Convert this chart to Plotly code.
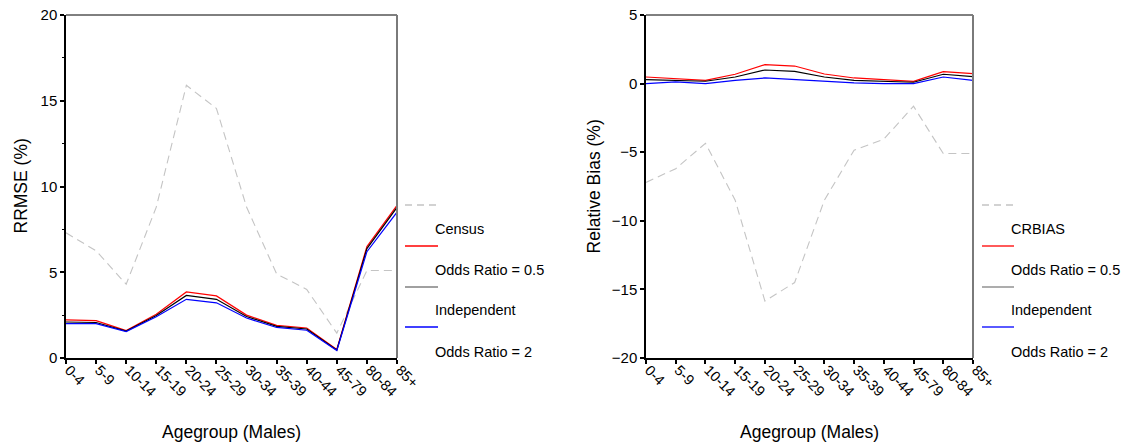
import plotly.graph_objects as go

W, H = 1123, 444

categories = ["0-4", "5-9", "10-14", "15-19", "20-24", "25-29", "30-34",
              "35-39", "40-44", "45-79", "80-84", "85+"]

# RRMSE (%)
rrmse_census = [7.3, 6.25, 4.3, 8.8, 15.9, 14.55, 8.8, 4.9, 4.0, 1.45, 5.1, 5.1]
rrmse_or05 = [2.22, 2.18, 1.6, 2.55, 3.85, 3.62, 2.5, 1.9, 1.75, 0.5, 6.5, 8.9]
rrmse_indep = [2.1, 2.07, 1.57, 2.48, 3.65, 3.42, 2.42, 1.84, 1.69, 0.47, 6.38, 8.78]
rrmse_or2 = [2.0, 2.0, 1.54, 2.4, 3.42, 3.22, 2.33, 1.78, 1.62, 0.44, 6.2, 8.5]

# Relative Bias (%)
bias_census = [-7.2, -6.2, -4.35, -8.5, -15.85, -14.5, -8.5, -4.85, -4.05, -1.65, -5.1, -5.1]
bias_or05 = [0.48, 0.38, 0.24, 0.68, 1.38, 1.28, 0.7, 0.41, 0.29, 0.17, 0.87, 0.73]
bias_indep = [0.29, 0.22, 0.17, 0.48, 0.99, 0.89, 0.48, 0.24, 0.17, 0.1, 0.68, 0.51]
bias_or2 = [0.0, 0.12, 0.0, 0.24, 0.41, 0.29, 0.19, 0.05, 0.0, 0.0, 0.48, 0.24]

left_legend = ["Census", "Odds Ratio = 0.5", "Independent", "Odds Ratio = 2"]
right_legend = ["CRBIAS", "Odds Ratio = 0.5", "Independent", "Odds Ratio = 2"]

FONT = "Liberation Sans, Arial, sans-serif"
DASH_COL = "#c4c4c4"
series_styles = [
    dict(color=DASH_COL, width=1.1, dash="8px,5px"),
    dict(color="#ff0000", width=1.2),
    dict(color="#000000", width=1.2),
    dict(color="#0000ff", width=1.2),
]
legend_line_cols = [DASH_COL, "#ff0000", "#808080", "#0000ff"]


def px(x):
    return x / W


def py(y):
    return 1 - y / H


fig = go.Figure()

for vals, st in zip([rrmse_census, rrmse_or05, rrmse_indep, rrmse_or2], series_styles):
    fig.add_trace(go.Scatter(x=categories, y=vals, mode="lines", line=st,
                             xaxis="x", yaxis="y", showlegend=False, hoverinfo="skip"))
for vals, st in zip([bias_census, bias_or05, bias_indep, bias_or2], series_styles):
    fig.add_trace(go.Scatter(x=categories, y=vals, mode="lines", line=st,
                             xaxis="x2", yaxis="y2", showlegend=False, hoverinfo="skip"))

L_X0, L_X1 = 66, 397
R_X0, R_X1 = 646, 973
Y_TOP, Y_BOT = 15, 358

xaxis_common = dict(
    type="category", range=[0, len(categories) - 1], showgrid=False, zeroline=False,
    showline=True, linecolor="black", linewidth=2, ticks="outside", ticklen=4,
    tickcolor="black", tickwidth=1.5, tickangle=45, automargin=False,
    ticklabelshift=3, ticklabelstandoff=-8,
    tickfont=dict(family=FONT, size=14.5, color="black"),
)
yaxis_common = dict(
    showgrid=False, zeroline=False, showline=True, linecolor="black", linewidth=1.5,
    ticks="outside", ticklen=4, tickcolor="black", tickwidth=1.5, automargin=False,
    tickfont=dict(family=FONT, size=15, color="black"),
)

fig.update_layout(
    width=W, height=H, margin=dict(l=0, r=0, t=0, b=0, autoexpand=False),
    paper_bgcolor="white", plot_bgcolor="white",
    xaxis=dict(domain=[px(L_X0), px(L_X1)], anchor="y", **xaxis_common),
    yaxis=dict(domain=[py(Y_BOT), py(Y_TOP)], anchor="x", range=[0, 20],
               tickvals=[0, 5, 10, 15, 20],
               minor=dict(tickvals=[2.5, 7.5, 12.5, 17.5], ticks="outside", ticklen=2,
                          tickcolor="black", tickwidth=1),
               **yaxis_common),
    xaxis2=dict(domain=[px(R_X0), px(R_X1)], anchor="y2", **xaxis_common),
    yaxis2=dict(domain=[py(Y_BOT), py(Y_TOP)], anchor="x2", range=[-20, 5],
                tickvals=[-20, -15, -10, -5, 0, 5], **yaxis_common),
    showlegend=False,
)

shapes = []
annotations = []
# frame: top and right borders
for x0, x1 in [(L_X0, L_X1), (R_X0, R_X1)]:
    shapes.append(dict(type="line", xref="paper", yref="paper",
                       x0=px(x0), x1=px(x1), y0=py(Y_TOP), y1=py(Y_TOP),
                       line=dict(color="black", width=1)))
    shapes.append(dict(type="line", xref="paper", yref="paper",
                       x0=px(x1), x1=px(x1), y0=py(Y_TOP), y1=py(Y_BOT),
                       line=dict(color="#7a7a7a", width=2)))

# legends (SPSS style: line sample above each label)
line_ys = [205, 246, 287, 327]
text_ys = [229, 270, 310, 352]
for (lx0, lx1, tx), labels in [((405, 438, 433), left_legend), ((982, 1014, 1009), right_legend)]:
    for i, lab in enumerate(labels):
        ln = dict(color=legend_line_cols[i], width=1.3)
        if i == 0:
            ln["dash"] = "7px,5px"
        shapes.append(dict(type="line", xref="paper", yref="paper",
                           x0=px(lx0), x1=px(lx1), y0=py(line_ys[i]), y1=py(line_ys[i]),
                           line=ln))
        annotations.append(dict(xref="paper", yref="paper", x=px(tx), y=py(text_ys[i]),
                                text=lab, showarrow=False, xanchor="left", yanchor="middle",
                                font=dict(family=FONT, size=14.5, color="black")))

# axis titles
TITLE_SIZE = 17.5
annotations += [
    dict(xref="paper", yref="paper", x=px((L_X0 + L_X1) / 2), y=py(432), text="Agegroup (Males)",
         showarrow=False, xanchor="center", yanchor="middle",
         font=dict(family=FONT, size=TITLE_SIZE, color="black")),
    dict(xref="paper", yref="paper", x=px((R_X0 + R_X1) / 2), y=py(432), text="Agegroup (Males)",
         showarrow=False, xanchor="center", yanchor="middle",
         font=dict(family=FONT, size=TITLE_SIZE, color="black")),
    dict(xref="paper", yref="paper", x=px(20), y=py((Y_TOP + Y_BOT) / 2), text="RRMSE (%)",
         showarrow=False, textangle=-90, xanchor="center", yanchor="middle",
         font=dict(family=FONT, size=TITLE_SIZE, color="black")),
    dict(xref="paper", yref="paper", x=px(593), y=py((Y_TOP + Y_BOT) / 2), text="Relative Bias (%)",
         showarrow=False, textangle=-90, xanchor="center", yanchor="middle",
         font=dict(family=FONT, size=TITLE_SIZE, color="black")),
]

fig.update_layout(shapes=shapes, annotations=annotations)
fig.write_html("out.html")
